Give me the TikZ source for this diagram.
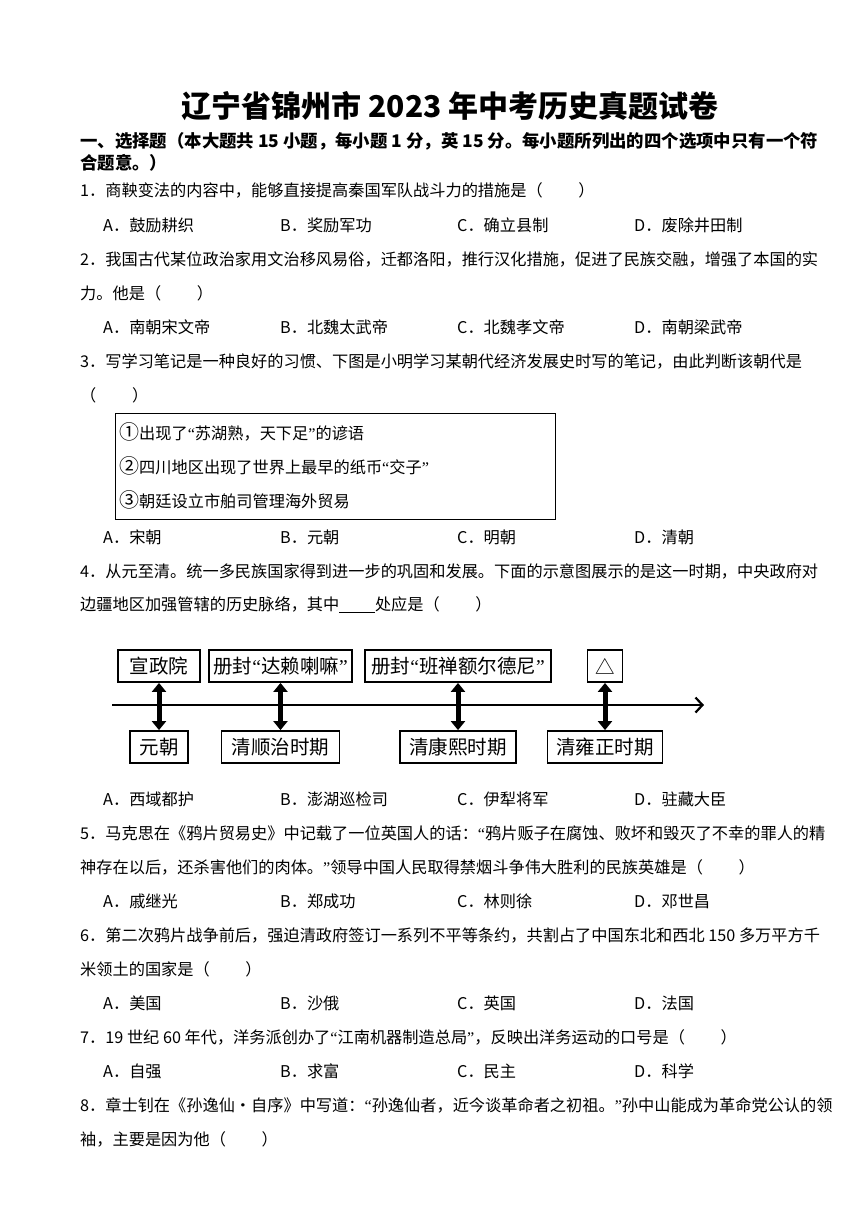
\documentclass[tikz,border=0pt]{standalone}
\usepackage{fontspec}
\usetikzlibrary{arrows.meta}
\setmainfont{Noto Sans CJK SC}
\newfontfamily\latfont{Liberation Serif}
\newcommand{\lqt}{{\latfont “}}
\newcommand{\rqt}{{\latfont ”}}
\newcommand{\bodysize}{\fontsize{16.2}{18}\selectfont}
\newcommand{\paren}{（\hspace{2.2em}）}
\newcommand{\circnum}[1]{{\fontsize{20}{20}\selectfont #1}}
% one row of answer choices
\newcommand{\opts}[6]{%
  \node[txt] (#1a) at (103,#2) {A．#3};
  \node[txt] (#1b) at (280,#2) {B．#4};
  \node[txt] (#1c) at (457,#2) {C．#5};
  \node[txt] (#1d) at (634,#2) {D．#6};
}

\begin{document}
\begin{tikzpicture}[x=1pt, y=-1pt,
  txt/.style={anchor=west, inner sep=0pt, font=\bodysize},
  tbox/.style={draw, line width=1.8pt, minimum height=32pt, inner xsep=2pt, font=\fontsize{19.5}{20}\selectfont},
  axis/.style={line width=2.2pt, -{Straight Barb[length=7pt,width=15pt]}},
  link/.style={line width=5pt, {Triangle[width=14pt,length=9pt]}-{Triangle[width=14pt,length=9pt]}}]

\useasboundingbox (0,0) rectangle (868,1227);

\node[font=\bfseries\fontsize{30}{32}\selectfont] (title) at (450,106) {辽宁省锦州市 2023 年中考历史真题试卷};
\node[txt, font=\bfseries\fontsize{17.4}{20}\selectfont] (sec) at (80,141) {一、选择题（本大题共 15 小题，每小题 1 分，英 15 分。每小题所列出的四个选项中只有一个符};
\node[txt, font=\bfseries\fontsize{17.4}{20}\selectfont] (sec2) at (80,163) {合题意。）};

\node[txt] (q1) at (80,190) {1．商鞅变法的内容中，能够直接提高秦国军队战斗力的措施是\paren};
\opts{q1}{225}{鼓励耕织}{奖励军功}{确立县制}{废除井田制}

\node[txt] (q2) at (80,259) {2．我国古代某位政治家用文治移风易俗，迁都洛阳，推行汉化措施，促进了民族交融，增强了本国的实};
\node[txt] (q2b) at (80,293) {力。他是\paren};
\opts{q2}{327}{南朝宋文帝}{北魏太武帝}{北魏孝文帝}{南朝梁武帝}

\node[txt] (q3) at (80,361) {3．写学习笔记是一种良好的习惯、下图是小明学习某朝代经济发展史时写的笔记，由此判断该朝代是};
\node[txt] (q3b) at (80,395) {\paren};
\node[draw, line width=0.8pt, anchor=north west, minimum width=440pt, minimum height=106pt, inner sep=0pt] (notebox) at (115,413) {};
\node[txt] (note1) at (119,432) {\circnum{①}出现了\lqt 苏湖熟，天下足\rqt 的谚语};
\node[txt] (note2) at (119,466) {\circnum{②}四川地区出现了世界上最早的纸币\lqt 交子\rqt};
\node[txt] (note3) at (119,500) {\circnum{③}朝廷设立市舶司管理海外贸易};
\opts{q3}{537}{宋朝}{元朝}{明朝}{清朝}

\node[txt] (q4) at (80,571) {4．从元至清。统一多民族国家得到进一步的巩固和发展。下面的示意图展示的是这一时期，中央政府对};
\node[txt] (q4b) at (80,605) {边疆地区加强管辖的历史脉络，其中\underline{\hspace{2.2em}}处应是\paren};

% timeline
\node[tbox, minimum width=82pt] (xzy) at (159,666) {宣政院};
\node[tbox, minimum width=143pt] (dalai) at (280.5,666) {册封\lqt 达赖喇嘛\rqt};
\node[tbox, minimum width=186pt] (banchan) at (458,666) {册封\lqt 班禅额尔德尼\rqt};
\node[tbox, minimum width=35pt] (blankbox) at (605,666) {△};
\node[tbox, minimum width=58pt] (yuan) at (159,747) {元朝};
\node[tbox, minimum width=118pt] (shunzhi) at (280.5,747) {清顺治时期};
\node[tbox, minimum width=116pt] (kangxi) at (458,747) {清康熙时期};
\node[tbox, minimum width=115pt] (yongzheng) at (605,747) {清雍正时期};
\coordinate (t0) at (112,705);
\coordinate (t1) at (704,705);
\draw[axis] (t0) -- (t1);
\draw[link] (xzy.south) -- (yuan.north);
\draw[link] (dalai.south) -- (shunzhi.north);
\draw[link] (banchan.south) -- (kangxi.north);
\draw[link] (blankbox.south) -- (yongzheng.north);
\opts{q4}{799}{西域都护}{澎湖巡检司}{伊犁将军}{驻藏大臣}

\node[txt] (q5) at (80,833) {5．马克思在《鸦片贸易史》中记载了一位英国人的话：\lqt 鸦片贩子在腐蚀、败坏和毁灭了不幸的罪人的精};
\node[txt] (q5b) at (80,867) {神存在以后，还杀害他们的肉体。\rqt 领导中国人民取得禁烟斗争伟大胜利的民族英雄是\paren};
\opts{q5}{901}{戚继光}{郑成功}{林则徐}{邓世昌}

\node[txt] (q6) at (80,935) {6．第二次鸦片战争前后，强迫清政府签订一系列不平等条约，共割占了中国东北和西北 150 多万平方千};
\node[txt] (q6b) at (80,969) {米领土的国家是\paren};
\opts{q6}{1003}{美国}{沙俄}{英国}{法国}

\node[txt] (q7) at (80,1037) {7．19 世纪 60 年代，洋务派创办了\lqt 江南机器制造总局\rqt，反映出洋务运动的口号是\paren};
\opts{q7}{1071}{自强}{求富}{民主}{科学}

\node[txt] (q8) at (80,1105) {8．章士钊在《孙逸仙·自序》中写道：\lqt 孙逸仙者，近今谈革命者之初祖。\rqt 孙中山能成为革命党公认的领};
\node[txt] (q8b) at (80,1139) {袖，主要是因为他\paren};

\end{tikzpicture}
\end{document}
